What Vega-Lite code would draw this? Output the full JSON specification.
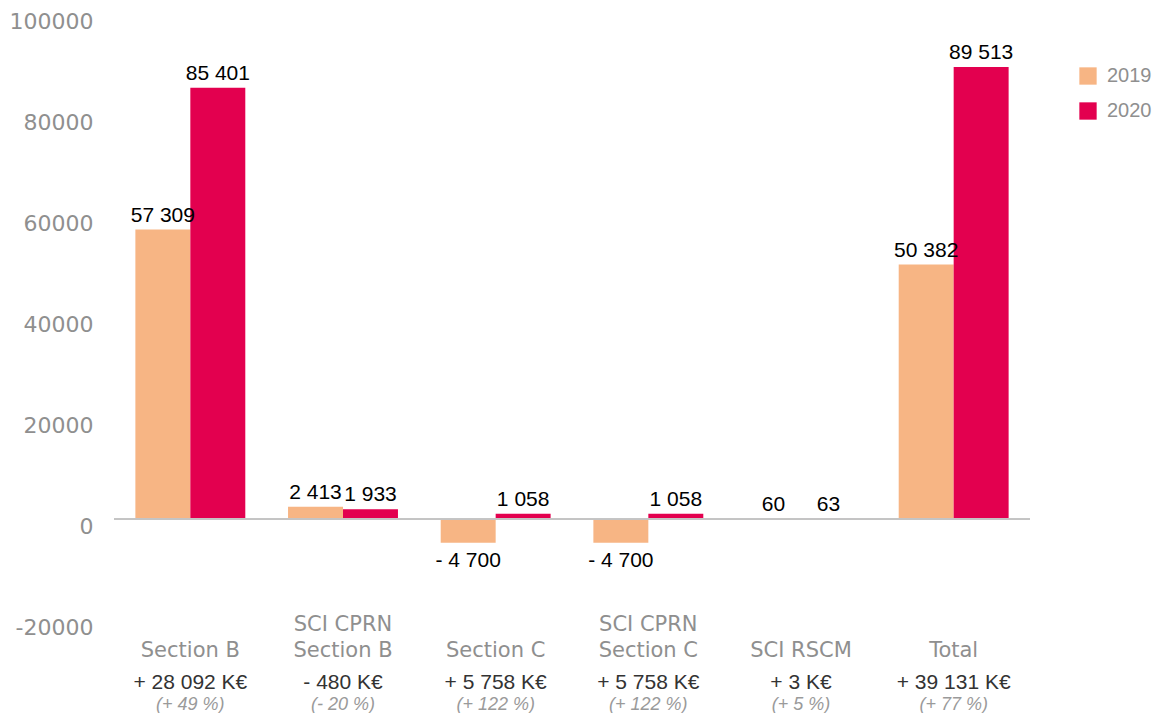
{
  "$schema": "https://vega.github.io/schema/vega-lite/v6.json",
  "width": 916,
  "height": 606,
  "padding": {"left": 0, "top": 10, "right": 0, "bottom": 0},
  "background": "white",
  "config": {"view": {"stroke": null}},
  "data": {
    "values": [
      {"category": "Section B", "change": "+ 28 092 K€", "pct": "(+ 49 %)", "year": "2019", "value": 57309, "label": "57 309"},
      {"category": "Section B", "change": "+ 28 092 K€", "pct": "(+ 49 %)", "year": "2020", "value": 85401, "label": "85 401"},
      {"category": "SCI CPRN\nSection B", "change": "- 480 K€", "pct": "(- 20 %)", "year": "2019", "value": 2413, "label": "2 413"},
      {"category": "SCI CPRN\nSection B", "change": "- 480 K€", "pct": "(- 20 %)", "year": "2020", "value": 1933, "label": "1 933"},
      {"category": "Section C", "change": "+ 5 758 K€", "pct": "(+ 122 %)", "year": "2019", "value": -4700, "label": "- 4 700"},
      {"category": "Section C", "change": "+ 5 758 K€", "pct": "(+ 122 %)", "year": "2020", "value": 1058, "label": "1 058"},
      {"category": "SCI CPRN\nSection C", "change": "+ 5 758 K€", "pct": "(+ 122 %)", "year": "2019", "value": -4700, "label": "- 4 700"},
      {"category": "SCI CPRN\nSection C", "change": "+ 5 758 K€", "pct": "(+ 122 %)", "year": "2020", "value": 1058, "label": "1 058"},
      {"category": "SCI RSCM", "change": "+ 3 K€", "pct": "(+ 5 %)", "year": "2019", "value": 60, "label": "60"},
      {"category": "SCI RSCM", "change": "+ 3 K€", "pct": "(+ 5 %)", "year": "2020", "value": 63, "label": "63"},
      {"category": "Total", "change": "+ 39 131 K€", "pct": "(+ 77 %)", "year": "2019", "value": 50382, "label": "50 382"},
      {"category": "Total", "change": "+ 39 131 K€", "pct": "(+ 77 %)", "year": "2020", "value": 89513, "label": "89 513"}
    ]
  },
  "transform": [
    {"calculate": "datum.category + '|' + datum.change + '|' + datum.pct", "as": "key"}
  ],
  "resolve": {"axis": {"x": "independent"}},
  "layer": [
    {
      "mark": {"type": "bar"},
      "encoding": {
        "x": {
          "field": "key", "type": "nominal", "sort": null,
          "scale": {"paddingInner": 0.28, "paddingOuter": 0.14},
          "axis": {
            "orient": "bottom",
            "title": null, "ticks": false, "domain": false, "labelAngle": 0, "labelOverlap": false,
            "labelExpr": "indexof(split(datum.value, '|')[0], '\\n') < 0 ? ['', split(datum.value, '|')[0]] : split(split(datum.value, '|')[0], '\\n')",
            "labelBaseline": "middle", "labelPadding": 4, "labelLineHeight": 26,
            "labelFont": "DejaVu Sans", "labelFontSize": 21, "labelColor": "#8f8f8f", "labelLimit": 0
          }
        },
        "xOffset": {"field": "year", "type": "nominal", "scale": {"paddingInner": 0, "paddingOuter": 0}},
        "y": {
          "field": "value", "type": "quantitative",
          "scale": {"domain": [-20000, 100000], "nice": false, "zero": false},
          "axis": {
            "title": null, "grid": false, "domain": false, "ticks": false,
            "values": [-20000, 0, 20000, 40000, 60000, 80000, 100000],
            "labelExpr": "'' + datum.value",
            "labelFont": "DejaVu Sans", "labelFontSize": 22, "labelColor": "#8f8f8f",
            "labelBaseline": "middle", "labelOffset": 7, "labelPadding": 21,
            "minExtent": 114, "maxExtent": 114
          }
        },
        "color": {
          "field": "year", "type": "nominal",
          "scale": {"domain": ["2019", "2020"], "range": ["#F7B584", "#E3004F"]},
          "legend": {
            "title": null, "orient": "none", "legendX": 964, "legendY": 52,
            "symbolType": "square", "symbolSize": 300, "symbolStrokeWidth": 0,
            "labelFont": "Liberation Sans", "labelFontSize": 20, "labelColor": "#8f8f8f",
            "labelOffset": 9, "rowPadding": 15
          }
        }
      }
    },
    {
      "mark": {"type": "rule", "color": "#c4c4c4", "strokeWidth": 1},
      "encoding": {"y": {"datum": 0, "type": "quantitative"}}
    },
    {
      "transform": [{"filter": "datum.value >= 0"}],
      "mark": {"type": "text", "font": "Liberation Sans", "fontSize": 21, "color": "#000000", "baseline": "alphabetic", "dy": -8},
      "encoding": {
        "x": {
          "field": "key", "type": "nominal", "sort": null,
          "axis": {
            "orient": "bottom",
            "title": null, "ticks": false, "domain": false, "labelAngle": 0, "labelOverlap": false,
            "labelExpr": "split(datum.value, '|')[1]",
            "labelBaseline": "alphabetic", "labelPadding": 68,
            "labelFont": "Liberation Sans", "labelFontSize": 21, "labelColor": "#333333", "labelLimit": 0
          }
        },
        "xOffset": {"field": "year", "type": "nominal"},
        "y": {"field": "value", "type": "quantitative"},
        "text": {"field": "label", "type": "nominal"}
      }
    },
    {
      "transform": [{"filter": "datum.value < 0"}],
      "mark": {"type": "text", "font": "Liberation Sans", "fontSize": 21, "color": "#000000", "baseline": "top", "dy": 7},
      "encoding": {
        "x": {
          "field": "key", "type": "nominal", "sort": null,
          "axis": {
            "orient": "bottom",
            "title": null, "ticks": false, "domain": false, "labelAngle": 0, "labelOverlap": false,
            "labelExpr": "split(datum.value, '|')[2]",
            "labelBaseline": "alphabetic", "labelPadding": 89,
            "labelFont": "Liberation Sans", "labelFontStyle": "italic", "labelFontSize": 18, "labelColor": "#9a9a9a", "labelLimit": 0
          }
        },
        "xOffset": {"field": "year", "type": "nominal"},
        "y": {"field": "value", "type": "quantitative"},
        "text": {"field": "label", "type": "nominal"}
      }
    }
  ]
}
